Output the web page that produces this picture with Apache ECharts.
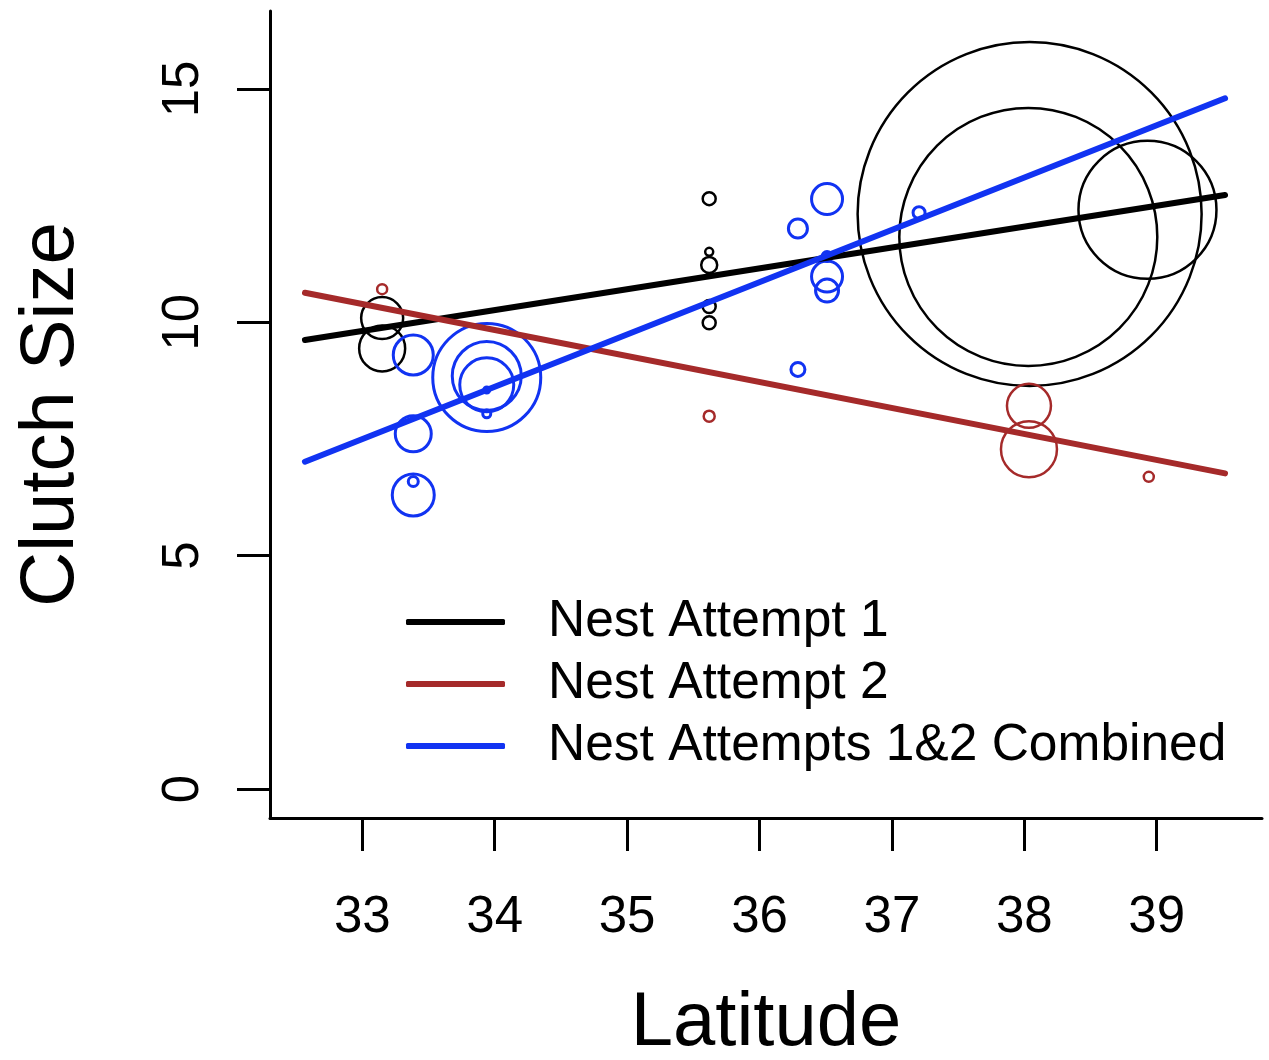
<!DOCTYPE html>
<html>
<head>
<meta charset="utf-8">
<script src="https://cdn.jsdelivr.net/npm/echarts@6/dist/echarts.min.js"></script>
<style>html,body{margin:0;padding:0;background:#fff}#c{width:1269px;height:1060px}</style>
</head>
<body>
<div id="c"></div>
<script>
// ---- data ----
// Nest Attempt 1: latitude, clutch size, bubble weight
const lat1 = [38.04, 38.03, 38.93, 33.15, 33.15, 35.62, 35.62, 35.62, 35.62, 35.62];
const clutch1 = [12.32, 11.83, 12.41, 10.09, 9.44, 12.65, 11.51, 11.23, 10.34, 9.99];
const weight1 = [172, 129, 69, 21, 23, 6.5, 4, 8, 6.5, 6.5];
// Nest Attempt 2
const lat2 = [33.15, 35.62, 38.035, 38.035, 38.94];
const clutch2 = [10.71, 7.99, 8.21, 7.28, 6.69];
const weight2 = [5, 5.5, 22, 28, 5];
// Combined
const latC = [33.385, 33.385, 33.385, 33.385, 33.94, 33.94, 33.94, 33.94, 33.94, 36.51, 36.29, 36.51, 36.51, 36.51, 36.29, 37.205];
const clutchC = [9.30, 7.61, 6.30, 6.59, 8.82, 8.85, 8.66, 8.55, 8.04, 12.64, 12.01, 11.41, 10.98, 10.68, 8.99, 12.35];
const weightC = [20, 18, 21, 5, 54, 34.5, 27, 3, 4, 15.5, 9.5, 5, 15.5, 11.5, 7, 6];
// fitted lines (start / end)
const fitX = [32.567, 39.516];
const fit1 = [9.62, 12.729];
const fit2 = [10.634, 6.764];
const fitC = [7.013, 14.800];
const xTicks = [33, 34, 35, 36, 37, 38, 39];
const yTicks = [0, 5, 10, 15];
const names = ['Nest Attempt 1', 'Nest Attempt 2', 'Nest Attempts 1&2 Combined'];

const cBlack = '#000000', cRed = '#A52A2A', cBlue = '#1133F2';
const FONT = 'Liberation Sans, Arial, Helvetica, sans-serif';

function pts(xs, ys, ws) { return xs.map((x, i) => ws ? [x, ys[i], ws[i]] : [x, ys[i]]); }
function bubbles(name, xs, ys, ws, color, bw) {
  return {
    name: name, type: 'scatter', data: pts(xs, ys, ws),
    symbol: 'circle', symbolSize: d => d[2] * 2,
    itemStyle: { color: 'rgba(0,0,0,0)', borderColor: color, borderWidth: bw, opacity: 1 },
    emphasis: { disabled: true }, silent: true, z: 2
  };
}
function fit(name, ys, color) {
  return {
    name: name, type: 'line', data: pts(fitX, ys), showSymbol: false, symbol: 'none',
    color: color, lineStyle: { color: color, width: 6, cap: 'round' }, z: 5, silent: true
  };
}

const chart = echarts.init(document.getElementById('c'), null, { renderer: 'canvas' });
chart.setOption({
  animation: false,
  backgroundColor: '#ffffff',
  textStyle: { fontFamily: FONT },
  grid: { left: 270, right: 7, top: 11, bottom: 242, containLabel: false, outerBoundsMode: 'none' },
  xAxis: {
    type: 'value', min: 32.303, max: 39.795,
    name: 'Latitude', nameLocation: 'middle', nameGap: 168,
    nameTextStyle: { fontSize: 76, color: '#000', fontFamily: FONT },
    axisLine: { show: true, onZero: false, lineStyle: { color: '#000', width: 3 } },
    axisTick: { show: true, inside: false, length: 33, lineStyle: { color: '#000', width: 3 }, customValues: xTicks },
    axisLabel: { show: true, fontSize: 51, color: '#000', margin: 74, fontFamily: FONT, customValues: xTicks },
    splitLine: { show: false }
  },
  yAxis: {
    type: 'value', min: -0.62, max: 16.67,
    name: 'Clutch Size', nameLocation: 'middle', nameGap: 180,
    nameTextStyle: { fontSize: 76, color: '#000', fontFamily: FONT },
    axisLine: { show: true, onZero: false, lineStyle: { color: '#000', width: 3 } },
    axisTick: { show: true, inside: false, length: 33, lineStyle: { color: '#000', width: 3 }, customValues: yTicks },
    axisLabel: { show: true, fontSize: 51, color: '#000', margin: 61, rotate: 90, fontFamily: FONT, customValues: yTicks },
    splitLine: { show: false }
  },
  legend: {
    show: true, orient: 'vertical', left: 401, top: 591,
    data: names, icon: 'roundRect', itemWidth: 99, itemHeight: 6, itemGap: 10,
    selectedMode: false,
    textStyle: { fontSize: 51.5, color: '#000', fontFamily: FONT, padding: [0, 0, 0, 38] }
  },
  series: [
    bubbles('b1', lat1, clutch1, weight1, cBlack, 2.5),
    bubbles('b2', lat2, clutch2, weight2, cRed, 2.5),
    bubbles('bC', latC, clutchC, weightC, cBlue, 3),
    fit(names[0], fit1, cBlack),
    fit(names[1], fit2, cRed),
    fit(names[2], fitC, cBlue)
  ]
});
</script>
</body>
</html>
